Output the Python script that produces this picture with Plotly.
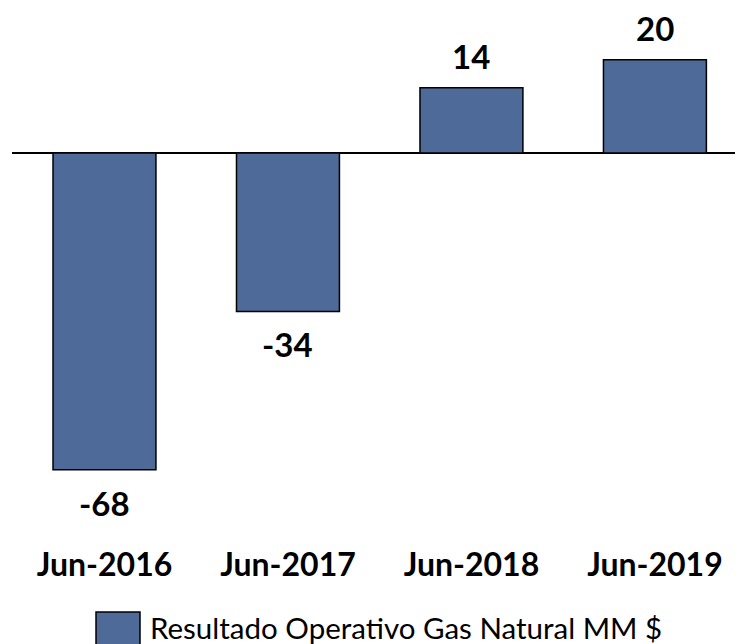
import plotly.graph_objects as go

categories = ["Jun-2016", "Jun-2017", "Jun-2018", "Jun-2019"]
values = [-68, -34, 14, 20]
legend_name = "Resultado Operativo Gas Natural MM $"

bar_color = "#4d6a98"

W, H = 735, 636
L, R, T, B = 4, 0, 0, 104
PW, PH = W - L - R, H - T - B

fig = go.Figure()
fig.add_trace(go.Bar(
    x=categories, y=values, name=legend_name,
    marker=dict(color=bar_color, line=dict(color="black", width=1.5)),
    showlegend=False,
))

for c, v in zip(categories, values):
    fig.add_annotation(
        x=c, y=v, text=f"<b>{v}</b>", showarrow=False,
        yanchor="bottom" if v >= 0 else "top",
        yshift=10 if v >= 0 else -11,
        font=dict(family="Lato", size=33, color="black"),
    )

# manual legend (figure pixel coords converted to paper)
def px(x):
    return (x - L) / PW

def py(y):
    return (H - B - y) / PH

fig.add_shape(type="rect", xref="paper", yref="paper",
              x0=px(88), x1=px(132), y0=py(604), y1=py(640),
              fillcolor=bar_color, line=dict(color="black", width=1.5))
fig.add_annotation(xref="paper", yref="paper", x=px(140), y=py(620),
                   text=legend_name, showarrow=False, xanchor="left", yanchor="middle",
                   font=dict(family="Lato", size=29.5, color="black"))

fig.update_layout(
    width=W, height=H,
    margin=dict(l=L, r=R, t=T, b=B),
    paper_bgcolor="white", plot_bgcolor="white",
    bargap=0.439,
    xaxis=dict(range=[-0.504, 3.48], showgrid=False, showline=False, ticks="",
               ticklabelstandoff=3,
               tickfont=dict(family="Lato", size=32, color="black", weight="bold")),
    yaxis=dict(range=[-83.05, 31.12], showgrid=False, showticklabels=False,
               zeroline=True, zerolinecolor="black", zerolinewidth=2, showline=False),
)

fig.write_html("out.html")
